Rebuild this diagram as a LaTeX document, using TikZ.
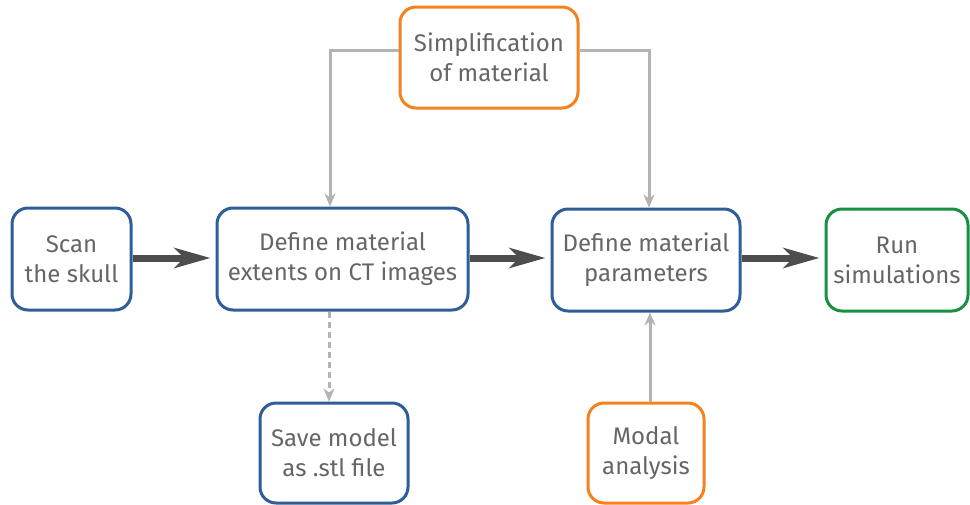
\documentclass[tikz,border=0pt]{standalone}
\usepackage{fontspec}
\setmainfont{Fira Sans}
\usetikzlibrary{arrows.meta}
\definecolor{bblue}{HTML}{2E5D97}
\definecolor{borange}{HTML}{F5821F}
\definecolor{bgreen}{HTML}{179141}
\definecolor{tgray}{HTML}{666666}
\definecolor{agray}{HTML}{B3B3B3}
\definecolor{dgray}{HTML}{4D4D4D}
\tikzset{
  box/.style={draw, line width=3pt, rounded corners=16pt, fill=white, text=tgray,
    align=center, inner sep=0pt, font=\fontsize{24}{30}\selectfont},
  bluebox/.style={box, draw=bblue},
  orangebox/.style={box, draw=borange},
  greenbox/.style={box, draw=bgreen},
  thick arrow/.style={draw=dgray, line width=7pt, -{Stealth[length=36pt,width=20pt,inset=10pt]}, shorten >=5pt},
  thin arrow/.style={draw=agray, line width=3pt, -{Stealth[length=13pt,width=11pt,inset=4pt]}},
}
\begin{document}
\begin{tikzpicture}[x=1pt,y=-1pt]
\useasboundingbox (0,0) rectangle (970,504);
\node[bluebox, minimum width=119pt, minimum height=102pt] (scan) at (71.5,259) {Scan\\the skull};
\node[bluebox, minimum width=251pt, minimum height=102pt] (ext) at (342.5,259) {Define material\\extents on CT images};
\node[bluebox, minimum width=188pt, minimum height=102pt] (par) at (646,260) {Define material\\parameters};
\node[greenbox, minimum width=142pt, minimum height=102pt] (run) at (897,260) {Run\\simulations};
\node[orangebox, minimum width=178pt, minimum height=101pt] (simp) at (489,57.5) {Simplification\\of material};
\node[bluebox, minimum width=148pt, minimum height=100pt] (save) at (334,453) {Save model\\as .stl file};
\node[orangebox, minimum width=116pt, minimum height=100pt] (modal) at (646,453) {Modal\\analysis};

\draw[thick arrow] (scan.east |- 0,258) -- (ext.west |- 0,258);
\draw[thick arrow] (ext.east |- 0,258) -- (par.west |- 0,258);
\draw[thick arrow] (par.east |- 0,258) -- (run.west |- 0,258);

\draw[thin arrow] (simp.west |- 0,50) -| (ext.north -| 330,0);
\draw[thin arrow] (simp.east |- 0,50) -| (par.north -| 649,0);
\draw[thin arrow, dashed, dash pattern=on 6pt off 4pt] (ext.south -| 329,0) -- (save.north -| 329,0);
\draw[thin arrow] (modal.north -| 650,0) -- (par.south -| 650,0);
\end{tikzpicture}
\end{document}
